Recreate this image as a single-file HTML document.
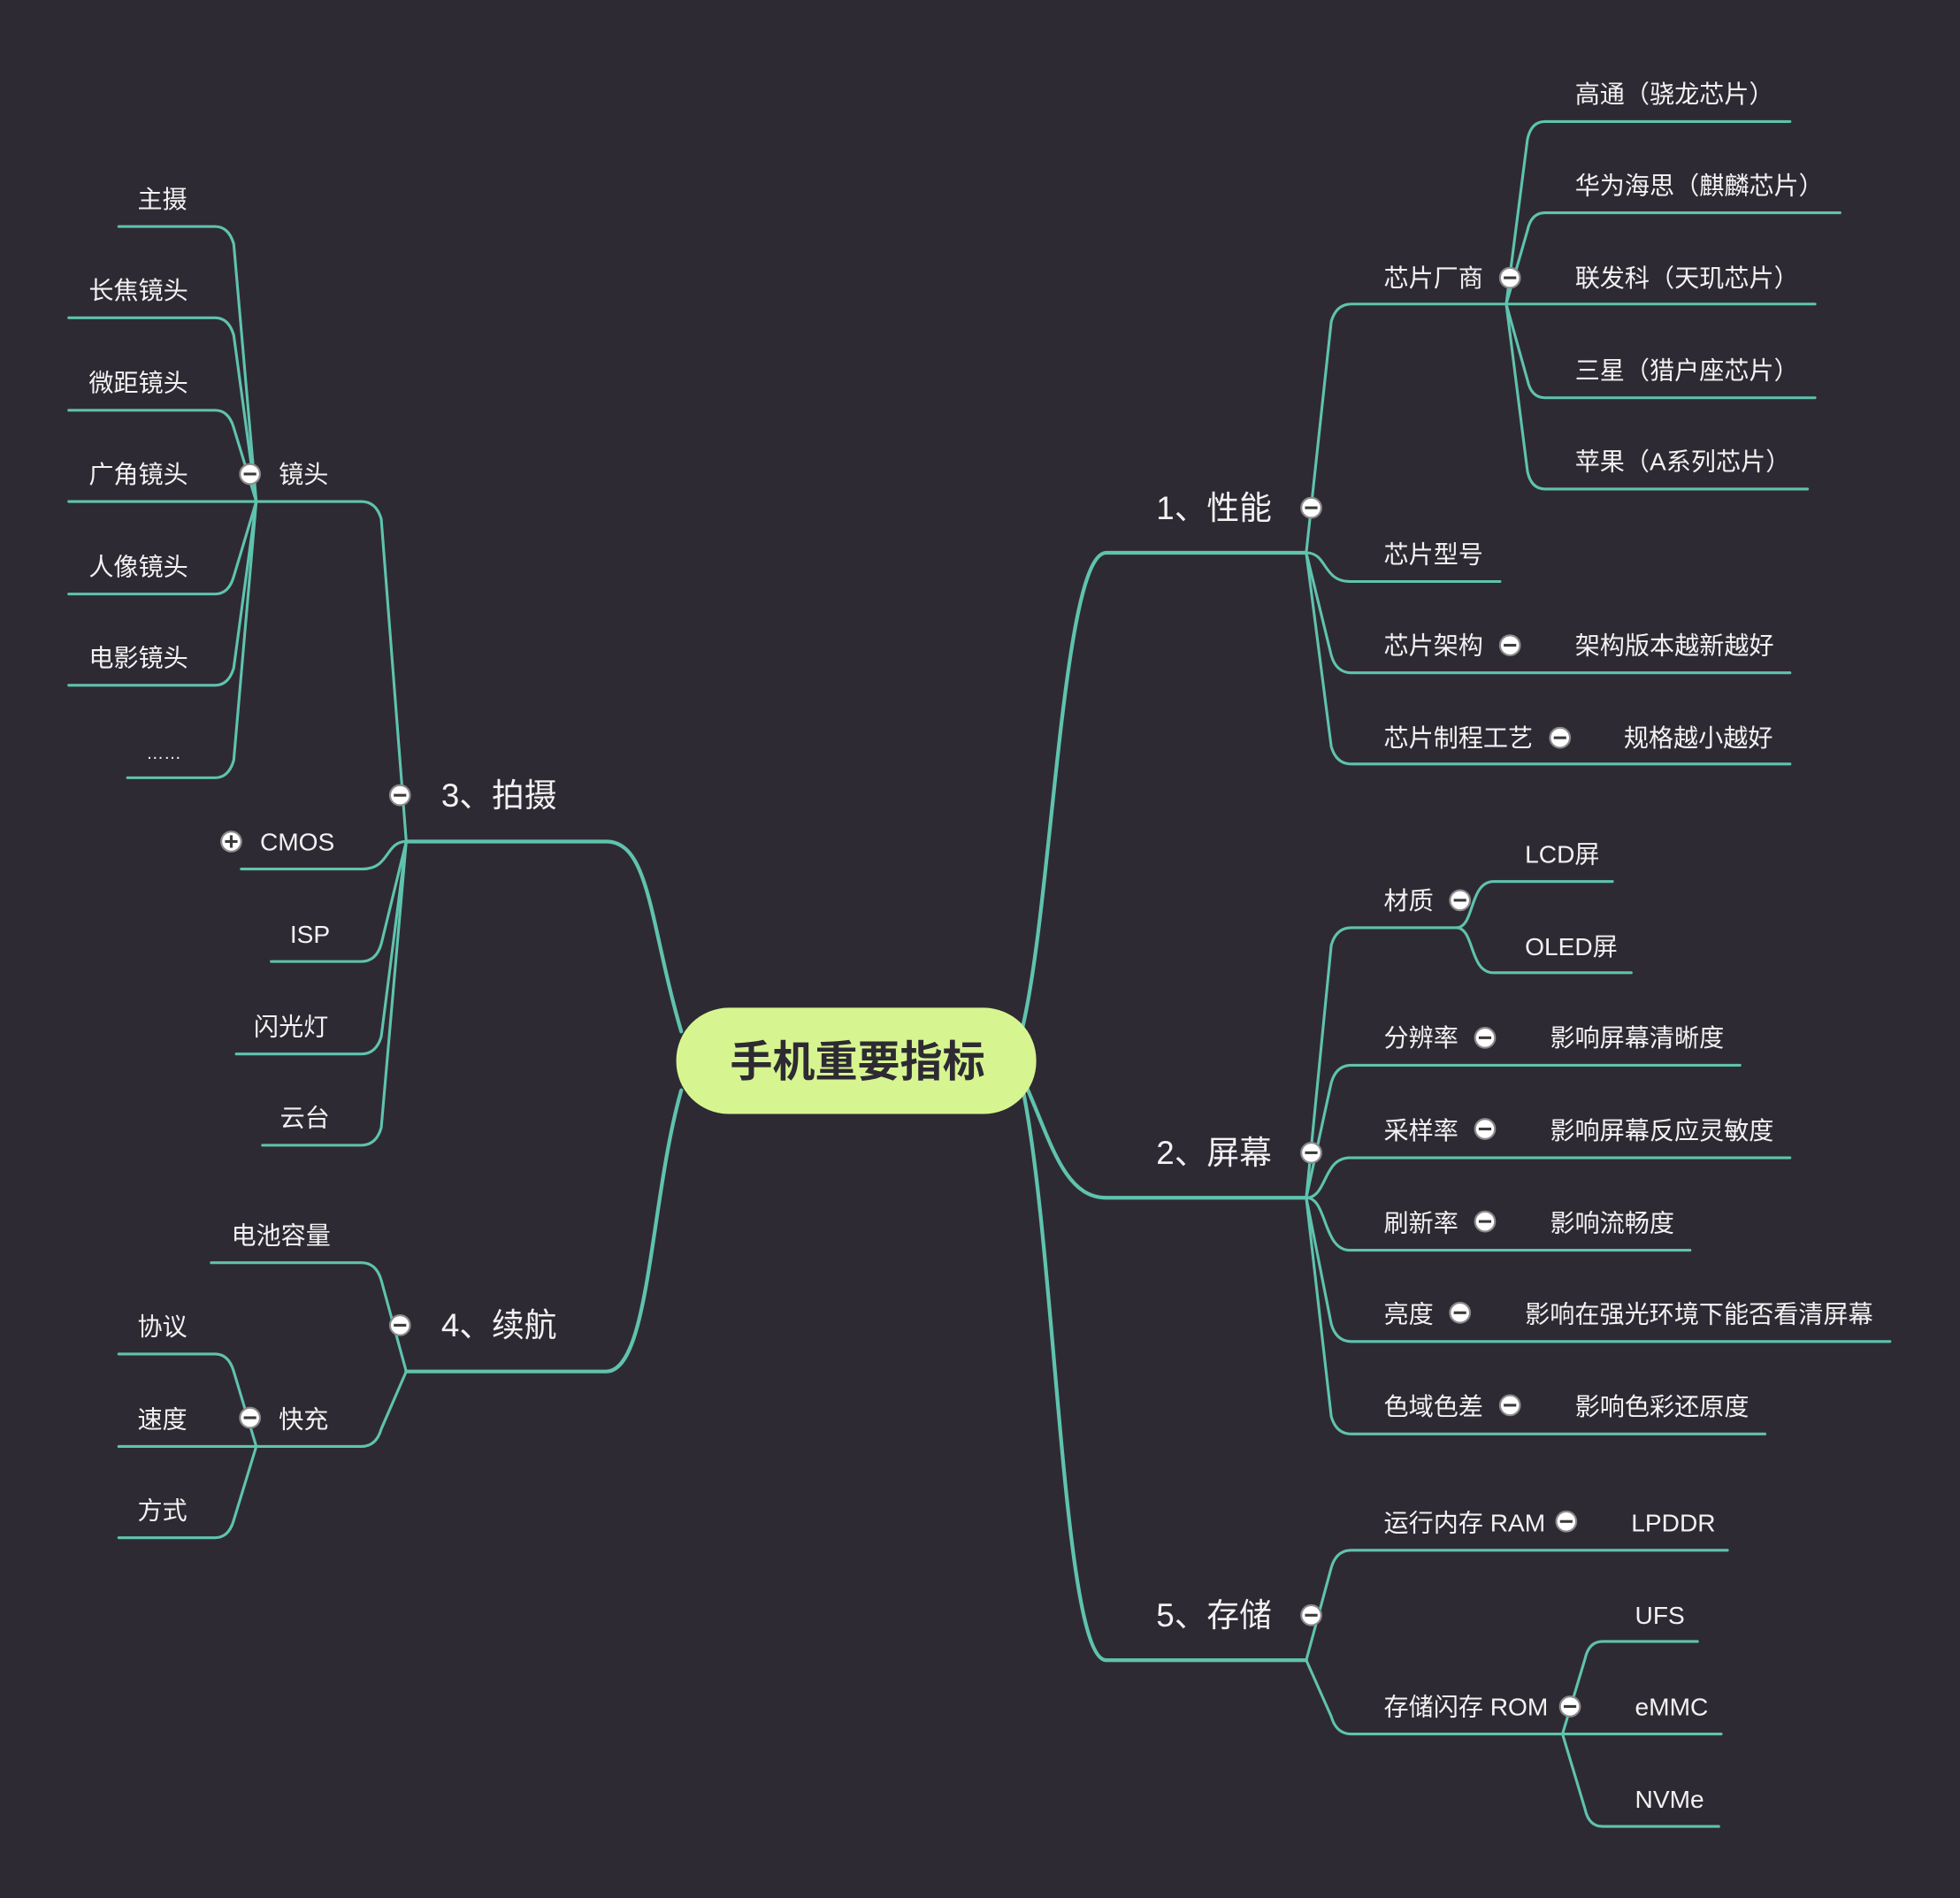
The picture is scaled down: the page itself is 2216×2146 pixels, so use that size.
<!DOCTYPE html>
<html><head><meta charset="utf-8"><style>
html,body{margin:0;padding:0;background:#2e2a33;}
svg{display:block}
text{font-family:"Liberation Sans","Noto Sans CJK SC",sans-serif;fill:#f2f2f2;font-size:19.9px}
.m{font-size:26px}
</style></head><body>
<svg width="2216" height="2146" viewBox="0 0 1568 1518" xmlns="http://www.w3.org/2000/svg">
<defs>
<g id="mi"><circle r="8" fill="#fff" stroke="#8a8a8a" stroke-width="1.5"/><line x1="-5" y1="0" x2="5" y2="0" stroke="#3a3a3a" stroke-width="2.2"/></g>
<g id="pl"><circle r="8" fill="#fff" stroke="#8a8a8a" stroke-width="1.5"/><line x1="-5" y1="0" x2="5" y2="0" stroke="#3a3a3a" stroke-width="2.2"/><line x1="0" y1="-5" x2="0" y2="5" stroke="#3a3a3a" stroke-width="2.2"/></g>
</defs>
<rect width="1568" height="1518" fill="#2e2a33"/>
<g fill="none" stroke="#5fc3ae" stroke-width="3" stroke-linecap="round">
<path d="M818,822 C842,720 850,442 885,442 L1045,442"/>
<path d="M818,862 C840,910 850,958 885,958 L1045,958"/>
<path d="M818,870 C845,1000 850,1328 885,1328 L1045,1328"/>
<path d="M545,825 C520,740 520,673 485,673 L325,673"/>
<path d="M545,872 C520,960 520,1097 485,1097 L325,1097"/>
</g>
<g fill="none" stroke="#5fc3ae" stroke-width="2.2" stroke-linecap="round">
<path d="M1045,442 L1065,257 Q1069,243 1081,243 L1205,243"/>
<path d="M1045,442 C1062,442 1058,465 1080,465 L1200,465"/>
<path d="M1045,442 L1065,524 Q1069,538 1081,538 L1432,538"/>
<path d="M1045,442 L1065,597 Q1069,611 1081,611 L1432,611"/>
<path d="M1205,243 L1222,111 Q1225,97 1236,97 L1432,97"/>
<path d="M1205,243 L1222,184 Q1225,170 1236,170 L1472,170"/>
<path d="M1205,243 L1452,243"/>
<path d="M1205,243 L1222,304 Q1225,318 1236,318 L1452,318"/>
<path d="M1205,243 L1222,377 Q1225,391 1236,391 L1446,391"/>
<path d="M1045,958 L1065,756 Q1069,742 1081,742 L1165,742"/>
<path d="M1165,742 C1180,742 1175,705 1195,705 L1290,705"/>
<path d="M1165,742 C1180,742 1175,778 1195,778 L1305,778"/>
<path d="M1045,958 L1065,866 Q1069,852 1081,852 L1392,852"/>
<path d="M1045,958 C1062,958 1058,926 1080,926 L1432,926"/>
<path d="M1045,958 C1062,958 1058,1000 1080,1000 L1352,1000"/>
<path d="M1045,958 L1065,1059 Q1069,1073 1081,1073 L1512,1073"/>
<path d="M1045,958 L1065,1133 Q1069,1147 1081,1147 L1412,1147"/>
<path d="M1045,1328 L1065,1254 Q1069,1240 1081,1240 L1382,1240"/>
<path d="M1045,1328 L1065,1373 Q1069,1387 1081,1387 L1250,1387"/>
<path d="M1250,1387 L1268,1327 Q1271,1313 1282,1313 L1358,1313"/>
<path d="M1250,1387 L1377,1387"/>
<path d="M1250,1387 L1268,1447 Q1271,1461 1282,1461 L1375,1461"/>
<path d="M325,673 L305,415 Q301,401 289,401 L205,401"/>
<path d="M325,673 C308,673 312,695 290,695 L193,695"/>
<path d="M325,673 L305,755 Q301,769 289,769 L217,769"/>
<path d="M325,673 L305,829 Q301,843 289,843 L189,843"/>
<path d="M325,673 L305,902 Q301,916 289,916 L210,916"/>
<path d="M205,401 L187,195 Q183,181 172,181 L95,181"/>
<path d="M205,401 L187,268 Q183,254 172,254 L55,254"/>
<path d="M205,401 L187,342 Q183,328 172,328 L55,328"/>
<path d="M205,401 L55,401"/>
<path d="M205,401 L187,461 Q183,475 172,475 L55,475"/>
<path d="M205,401 L187,534 Q183,548 172,548 L55,548"/>
<path d="M205,401 L187,608 Q183,622 172,622 L102,622"/>
<path d="M325,1097 L305,1024 Q301,1010 289,1010 L169,1010"/>
<path d="M325,1097 L305,1143 Q301,1157 289,1157 L205,1157"/>
<path d="M205,1157 L187,1097 Q183,1083 172,1083 L95,1083"/>
<path d="M205,1157 L95,1157"/>
<path d="M205,1157 L187,1216 Q183,1230 172,1230 L95,1230"/>
</g>
<rect x="541" y="806" width="288" height="85" rx="42" fill="#d6f590"/>
<text x="686" y="861" text-anchor="middle" style="font-size:34px;font-weight:bold;fill:#2e2a33">手机重要指标</text>

<text class="m" x="925" y="415">1、性能</text>
<text class="m" x="925" y="931">2、屏幕</text>
<text class="m" x="925" y="1301">5、存储</text>
<text class="m" x="353" y="645">3、拍摄</text>
<text class="m" x="353" y="1069">4、续航</text>

<text x="1107" y="229">芯片厂商</text>
<text x="1107" y="450">芯片型号</text>
<text x="1107" y="523">芯片架构</text>
<text x="1107" y="597">芯片制程工艺</text>
<text x="1260" y="523">架构版本越新越好</text>
<text x="1299" y="597">规格越小越好</text>
<text x="1260" y="82">高通（骁龙芯片）</text>
<text x="1260" y="155">华为海思（麒麟芯片）</text>
<text x="1260" y="229">联发科（天玑芯片）</text>
<text x="1260" y="303">三星（猎户座芯片）</text>
<text x="1260" y="376">苹果（A系列芯片）</text>

<text x="1107" y="727">材质</text>
<text x="1220" y="690">LCD屏</text>
<text x="1220" y="764">OLED屏</text>
<text x="1107" y="837">分辨率</text>
<text x="1240" y="837">影响屏幕清晰度</text>
<text x="1107" y="911">采样率</text>
<text x="1240" y="911">影响屏幕反应灵敏度</text>
<text x="1107" y="985">刷新率</text>
<text x="1240" y="985">影响流畅度</text>
<text x="1107" y="1058">亮度</text>
<text x="1220" y="1058">影响在强光环境下能否看清屏幕</text>
<text x="1107" y="1132">色域色差</text>
<text x="1260" y="1132">影响色彩还原度</text>

<text x="1107" y="1225">运行内存 RAM</text>
<text x="1305" y="1225">LPDDR</text>
<text x="1107" y="1372">存储闪存 ROM</text>
<text x="1308" y="1299">UFS</text>
<text x="1308" y="1372">eMMC</text>
<text x="1308" y="1446">NVMe</text>

<text x="223" y="386">镜头</text>
<text x="208" y="680">CMOS</text>
<text x="232" y="754">ISP</text>
<text x="203" y="828">闪光灯</text>
<text x="224" y="901">云台</text>
<text x="110" y="166">主摄</text>
<text x="71" y="239">长焦镜头</text>
<text x="71" y="313">微距镜头</text>
<text x="71" y="386">广角镜头</text>
<text x="71" y="460">人像镜头</text>
<text x="71" y="533">电影镜头</text>
<text x="117" y="607" style="font-size:14px">……</text>
<text x="185" y="995">电池容量</text>
<text x="223" y="1142">快充</text>
<text x="110" y="1068">协议</text>
<text x="110" y="1142">速度</text>
<text x="110" y="1215">方式</text>

<use href="#mi" x="1049" y="406"/>
<use href="#mi" x="1049" y="922"/>
<use href="#mi" x="1049" y="1292"/>
<use href="#mi" x="320" y="636"/>
<use href="#mi" x="320" y="1060"/>
<use href="#mi" x="1208" y="222"/>
<use href="#mi" x="1208" y="516"/>
<use href="#mi" x="1248" y="590"/>
<use href="#mi" x="1168" y="720"/>
<use href="#mi" x="1188" y="830"/>
<use href="#mi" x="1188" y="903"/>
<use href="#mi" x="1188" y="977"/>
<use href="#mi" x="1168" y="1050"/>
<use href="#mi" x="1208" y="1124"/>
<use href="#mi" x="1253" y="1217"/>
<use href="#mi" x="1256" y="1365"/>
<use href="#mi" x="200" y="379"/>
<use href="#mi" x="200" y="1134"/>
<use href="#pl" x="185" y="673"/>
</svg>
</body></html>
